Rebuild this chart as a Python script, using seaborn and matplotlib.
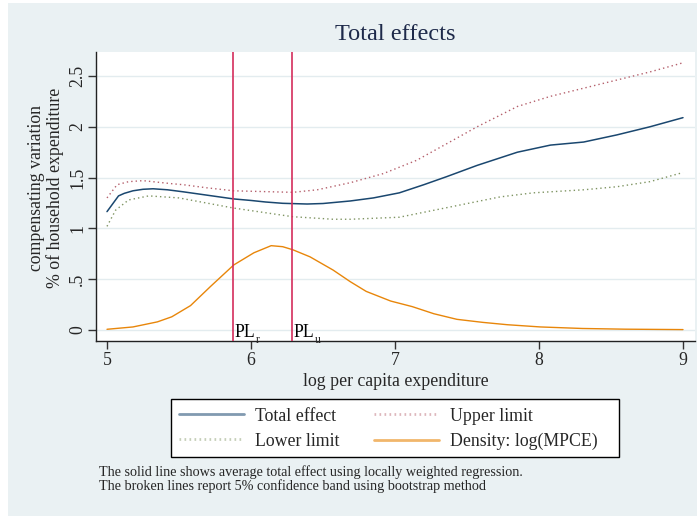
import matplotlib
matplotlib.use("Agg")
import matplotlib.pyplot as plt
from matplotlib.lines import Line2D
from matplotlib.patches import Rectangle
import seaborn as sns
import pandas as pd

# Locally weighted regression of total effect (compensating variation, % of expenditure)
te_x = [5.00, 5.08, 5.12, 5.18, 5.25, 5.32, 5.42, 5.53, 5.88, 6.00, 6.10, 6.22, 6.39,
        6.50, 6.69, 6.85, 7.03, 7.20, 7.36, 7.57, 7.85, 8.08, 8.31, 8.54, 8.77, 9.00]
te_y = [1.165, 1.32, 1.345, 1.37, 1.385, 1.39, 1.38, 1.36, 1.29, 1.275, 1.26, 1.247, 1.24,
        1.245, 1.27, 1.30, 1.35, 1.43, 1.51, 1.62, 1.75, 1.82, 1.85, 1.92, 2.00, 2.09]

# Bootstrap 5% confidence band
up_x = [5.00, 5.07, 5.15, 5.25, 5.45, 5.53, 5.69, 5.88, 6.29, 6.46, 6.69, 6.92, 7.15,
        7.38, 7.57, 7.85, 8.08, 8.31, 8.54, 8.77, 9.00]
up_y = [1.30, 1.43, 1.46, 1.47, 1.44, 1.43, 1.40, 1.37, 1.355, 1.38, 1.45, 1.54, 1.67,
        1.85, 2.00, 2.20, 2.30, 2.38, 2.46, 2.54, 2.63]
lo_x = [5.00, 5.06, 5.15, 5.29, 5.50, 5.88, 6.29, 6.57, 6.69, 7.03, 7.38, 7.73, 7.96,
        8.31, 8.54, 8.77, 9.00]
lo_y = [1.02, 1.18, 1.28, 1.32, 1.30, 1.20, 1.115, 1.09, 1.09, 1.11, 1.21, 1.31, 1.35,
        1.38, 1.41, 1.46, 1.55]

# Kernel density of log(MPCE)
de_x = [5.00, 5.18, 5.35, 5.45, 5.58, 5.72, 5.88, 6.02, 6.14, 6.22, 6.29, 6.41, 6.57,
        6.69, 6.80, 6.97, 7.12, 7.27, 7.43, 7.61, 7.78, 8.01, 8.30, 8.60, 9.00]
de_y = [0.007, 0.03, 0.08, 0.13, 0.24, 0.43, 0.64, 0.76, 0.83, 0.82, 0.79, 0.72, 0.59,
        0.475, 0.38, 0.285, 0.23, 0.16, 0.105, 0.075, 0.052, 0.03, 0.015, 0.008, 0.004]

# Poverty lines (rural, urban) in log per capita expenditure
pov_lines = [5.875, 6.285]
pov_labels = ["r", "u"]

x_ticks = [5, 6, 7, 8, 9]
y_ticks = [0, 0.5, 1, 1.5, 2, 2.5]
y_tick_labels = ["0", ".5", "1", "1.5", "2", "2.5"]

series_names = ["Total effect", "Lower limit", "Upper limit", "Density: log(MPCE)"]

sns.set_theme(style="white")
plt.rcParams["font.family"] = ["Liberation Serif", "DejaVu Serif"]

BG = "#eaf1f3"
NAVY = "#1a476f"
MAROON = "#b5606c"
GREEN = "#7f9462"
ORANGE = "#e8860a"
RED = "#d42e5c"
FS = 12.8

W, H = 699, 516
fig = plt.figure(figsize=(W / 100, H / 100), dpi=100)
fig.patch.set_facecolor("white")
fig.add_artist(Rectangle((8 / W, 0), (697 - 8) / W, (H - 3) / H,
                         transform=fig.transFigure, facecolor=BG, edgecolor="none", zorder=-10))

ax = fig.add_axes([96 / W, 1 - 341 / H, (695 - 96) / W, (341 - 52) / H])
ax.set_facecolor("white")

df_te = pd.DataFrame({"x": te_x, "y": te_y})
df_up = pd.DataFrame({"x": up_x, "y": up_y})
df_lo = pd.DataFrame({"x": lo_x, "y": lo_y})
df_de = pd.DataFrame({"x": de_x, "y": de_y})

for yv in y_ticks:
    ax.axhline(yv, color="#e3ecef", lw=1.0, zorder=0)

sns.lineplot(data=df_up, x="x", y="y", ax=ax, color=MAROON, lw=1.0,
             linestyle=(0, (1, 2.2)), zorder=3)
sns.lineplot(data=df_lo, x="x", y="y", ax=ax, color=GREEN, lw=1.0,
             linestyle=(0, (1, 2.2)), zorder=3)
sns.lineplot(data=df_de, x="x", y="y", ax=ax, color=ORANGE, lw=1.0, zorder=3)
sns.lineplot(data=df_te, x="x", y="y", ax=ax, color=NAVY, lw=1.1, zorder=4)

# Poverty-line markers: "PL" with a small subscript letter
for pl, lab in zip(pov_lines, pov_labels):
    ax.axvline(pl, color=RED, lw=1.2, zorder=5)
    t = ax.text(pl + 0.008, -0.07, "PL", fontsize=FS, color="black",
                ha="left", va="baseline", zorder=6)
    ax.annotate(lab, xy=(1.0, 0.0), xycoords=t, xytext=(0.3, -1.5),
                textcoords="offset points", fontsize=8.5, ha="left", va="baseline",
                zorder=6)

ax.set_xlim(5 - 11 / 144, 9 + 12 / 144)
ax.set_ylim(-11 / 101.6, 278 / 101.6)
ax.set_xticks(x_ticks)
ax.set_xticklabels([str(t) for t in x_ticks], fontsize=FS)
ax.set_yticks(y_ticks)
ax.set_yticklabels(y_tick_labels, fontsize=FS, rotation=90, va="center")
ax.tick_params(axis="both", which="major", length=6, width=1, color="#333333",
               direction="out", bottom=True, left=True)
ax.tick_params(axis="x", pad=2)
ax.tick_params(axis="y", pad=1)
for side in ["top", "right"]:
    ax.spines[side].set_visible(False)
for side in ["left", "bottom"]:
    ax.spines[side].set_color("#222222")
    ax.spines[side].set_linewidth(1.0)
ax.set_xlabel("")
ax.set_ylabel("")

fig.text(395.5 / W, 1 - 34 / H, "Total effects", fontsize=17.5, color="#1e2a4a",
         ha="center", va="center")
fig.text(395.5 / W, 1 - 381 / H, "log per capita expenditure", fontsize=FS,
         ha="center", va="center")
fig.text(46 / W, 1 - 188 / H, "compensating variation\n% of household expenditure",
         fontsize=FS, rotation=90, ha="center", va="center", linespacing=1.15)

# Legend box drawn as a plain rectangle, entries placed inside it
fig.add_artist(Rectangle((171 / W, 1 - 457 / H), (619 - 171) / W, (457 - 399) / H,
                         transform=fig.transFigure, facecolor="white",
                         edgecolor="black", lw=1.0, zorder=1))
handles = [
    Line2D([], [], color=NAVY, lw=2.0, alpha=0.55),
    Line2D([], [], color=GREEN, lw=2.0, alpha=0.45, linestyle=(0, (0.6, 1.2))),
    Line2D([], [], color=MAROON, lw=2.0, alpha=0.45, linestyle=(0, (0.6, 1.2))),
    Line2D([], [], color=ORANGE, lw=2.0, alpha=0.6),
]
leg = fig.legend(handles, series_names, loc="upper left", ncol=2,
                 bbox_to_anchor=(175 / W, 1 - 404 / H), fontsize=FS, frameon=False,
                 handlelength=3.7, columnspacing=1.9, handletextpad=0.62,
                 labelspacing=0.45, borderpad=0.2, borderaxespad=0)
leg.set_zorder(2)

fig.text(99 / W, 1 - 472 / H,
         "The solid line shows average total effect using locally weighted regression.",
         fontsize=10.2, ha="left", va="center")
fig.text(99 / W, 1 - 486 / H,
         "The broken lines report 5% confidence band using bootstrap method",
         fontsize=10.2, ha="left", va="center")

fig.savefig("out.png", dpi=100, facecolor=fig.get_facecolor())
